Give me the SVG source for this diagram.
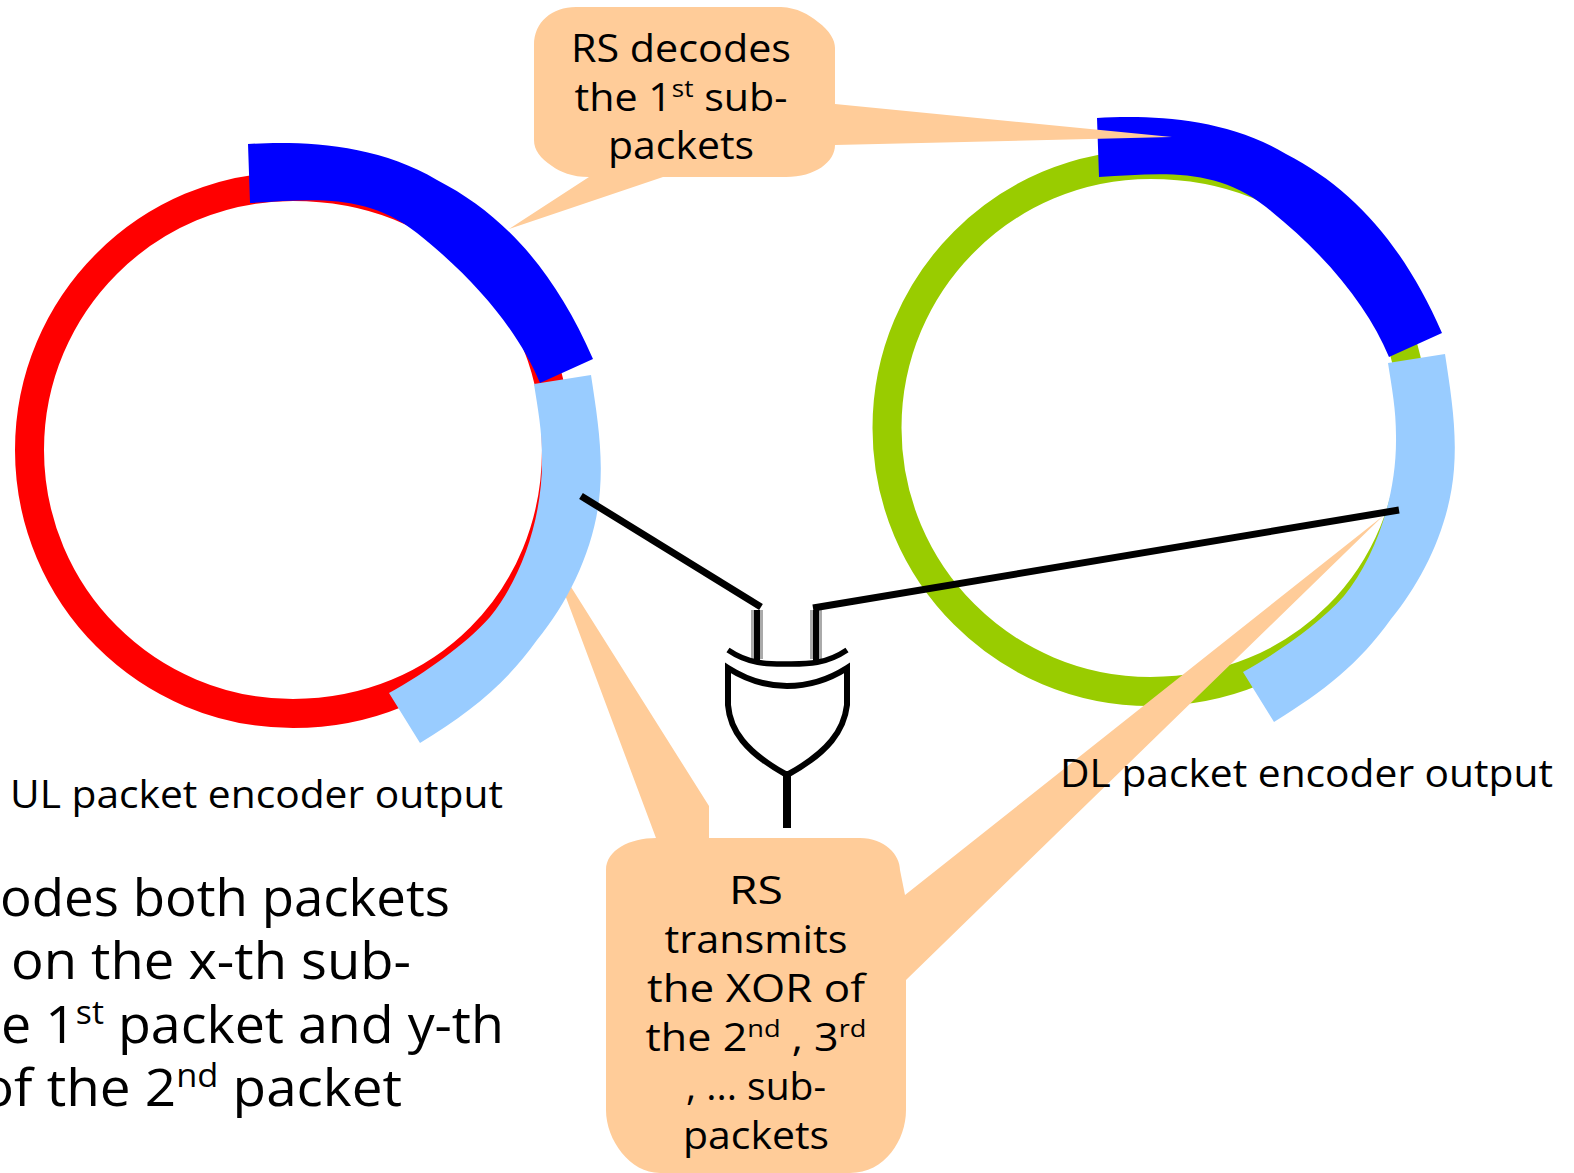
<svg xmlns="http://www.w3.org/2000/svg" width="1574" height="1173" viewBox="0 0 1574 1173">
<style>
text{font-family:"Open Sans","Liberation Sans",sans-serif;fill:#000}
.m{font-size:38px;text-anchor:middle}
.l{font-size:38px}
.b{font-size:51px}
.ring{fill:none;stroke-width:29}
.c{fill:#ffcc99}
.blue{fill:#0000ff}
.sky{fill:#99ccff}
.w{fill:none;stroke:#000;stroke-linecap:butt}
</style>
<defs>
<path id="ring-shape" d="M0 -263.5C154.1 -263.5 263.5 -154.1 263.5 0C263.5 148.9 148.9 263.5 0 263.5C-145.5 263.5 -263.5 145.5 -263.5 0C-263.5 -145.5 -145.5 -263.5 0 -263.5Z"/>
<path id="blue-arc" class="blue" d="M248 144C300 141 375 143 437 180C505 215 555 272 593 359L540 383C520 335 480 283 417 233C365 192 310 200 250 203Z"/>
<path id="sky-arc" class="sky" d="M534 384L591 375C597 415 603 450 600 490C596 545 570 600 537 640C505 685 470 712 420 743L389 693C425 673 465 645 490 617C520 580 543 520 542 457C542 430 538 410 534 384Z"/>
</defs>
<rect width="1574" height="1173" fill="#fff"/>
<g id="ul-ring">
<use href="#ring-shape" class="ring" x="293" y="450" stroke="#ff0000"/>
</g>
<g id="dl-ring">
<use href="#ring-shape" class="ring" x="1150.5" y="428" stroke="#99cc00"/>
</g>
<g id="callout-xor">
<path class="c" d="M656 838L549 552L709 806V838H860C885 838 900 855 900 870L905 895L1383 516L906 980V1110C906 1140 885 1173 850 1173H660C630 1173 606 1140 606 1110V870C606 850 630 838 656 838Z"/>
</g>
<g id="ul-packets">
<use href="#blue-arc"/>
<use href="#sky-arc"/>
</g>
<g id="dl-packets">
<use href="#blue-arc" x="849" y="-26"/>
<use href="#sky-arc" x="854" y="-21"/>
</g>
<g id="callout-decode">
<path class="c" d="M576 7H781C798 8 808 14 818 22C830 31 835 40 835 48V104L1172 137L835 145C835 162 815 177 786 177H663L509 229L589 177C572 177 560 172 552 166C540 158 534 150 534 140V45C534 22 552 7 576 7Z"/>
<text class="m" x="681" y="62" textLength="220" lengthAdjust="spacingAndGlyphs">RS decodes</text>
<text class="m" x="681" y="111" textLength="213" lengthAdjust="spacingAndGlyphs">the 1<tspan font-size="24" dy="-14">st</tspan><tspan dy="14"> sub-</tspan></text>
<text class="m" x="681" y="159" textLength="146" lengthAdjust="spacingAndGlyphs">packets</text>
</g>
<g id="callout-xor-text">
<text class="m" x="756" y="904" textLength="54" lengthAdjust="spacingAndGlyphs">RS</text>
<text class="m" x="756" y="953" textLength="183" lengthAdjust="spacingAndGlyphs">transmits</text>
<text class="m" x="756" y="1002" textLength="218" lengthAdjust="spacingAndGlyphs">the XOR of</text>
<text class="m" x="756" y="1051" textLength="221" lengthAdjust="spacingAndGlyphs">the 2<tspan font-size="24" dy="-14">nd</tspan><tspan dy="14"> , 3</tspan><tspan font-size="24" dy="-14">rd</tspan></text>
<text class="m" x="756" y="1100" textLength="140" lengthAdjust="spacingAndGlyphs">, ... sub-</text>
<text class="m" x="756" y="1149" textLength="146" lengthAdjust="spacingAndGlyphs">packets</text>
</g>
<g id="xor-gate">
<path fill="none" stroke="#aaa" stroke-width="12" d="M757 610V659M816 610V659"/>
<path class="w" stroke-width="6" d="M757 610V660M816 610V660"/>
<path class="w" stroke-width="5.5" d="M728 650C750 665 770 664 787 664C805 664 825 665 847 650"/>
<path class="w" stroke-width="6" fill="#fff" d="M728 668C750 682 770 686 787 686C805 686 825 682 847 668V705C844 730 829 752 787 775C745 752 730 730 728 705Z"/>
<path class="w" stroke-width="8" d="M787 775V828"/>
</g>
<g id="connectors">
<path class="w" stroke-width="7" d="M581 496L761 607"/>
<path class="w" stroke-width="7" d="M813 608L1399 510"/>
</g>
<g id="labels">
<text class="l" x="10" y="808" textLength="493" lengthAdjust="spacingAndGlyphs">UL packet encoder output</text>
<text class="l" x="1060" y="787" textLength="493" lengthAdjust="spacingAndGlyphs">DL packet encoder output</text>
<text class="b" x="0" y="916" textLength="450" lengthAdjust="spacingAndGlyphs">odes both packets</text>
<text class="b" x="11" y="979" textLength="400" lengthAdjust="spacingAndGlyphs">on the x-th sub-</text>
<text class="b" x="1" y="1043" textLength="503" lengthAdjust="spacingAndGlyphs">e 1<tspan font-size="32" dy="-19">st</tspan><tspan dy="19"> packet and y-th</tspan></text>
<text class="b" x="-19" y="1106" textLength="421" lengthAdjust="spacingAndGlyphs">of the 2<tspan font-size="32" dy="-19">nd</tspan><tspan dy="19"> packet</tspan></text>
</g>
</svg>
